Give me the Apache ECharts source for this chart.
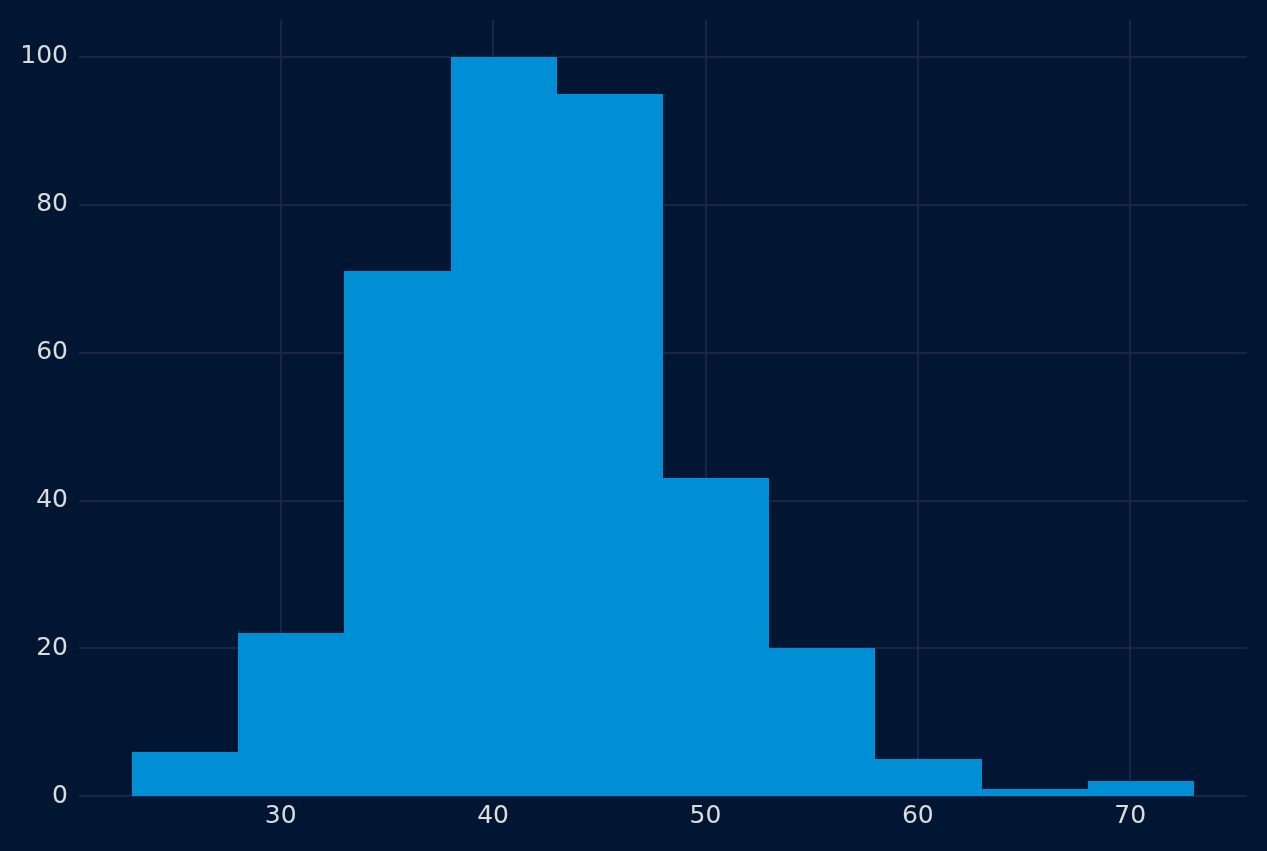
<!DOCTYPE html>
<html>
<head>
<meta charset="utf-8">
<script src="https://cdn.jsdelivr.net/npm/echarts@6/dist/echarts.min.js"></script>
<style>
html,body{margin:0;padding:0;background:#001632;}
#chart{width:1267px;height:851px;}
</style>
</head>
<body>
<div id="chart"></div>
<script>
const binStarts = [23, 28, 33, 38, 43, 48, 53, 58, 63, 68];
const binWidth = 5;
const counts = [6, 22, 71, 100, 95, 43, 20, 5, 1, 2];
const xTicks = [30, 40, 50, 60, 70];
const yTicks = [0, 20, 40, 60, 80, 100];

const data = binStarts.map((s, i) => [s, s + binWidth, counts[i]]);
const gridColor = '#1f2444';
const textColor = '#dcdcdc';

const chart = echarts.init(document.getElementById('chart'));
chart.setOption({
  backgroundColor: '#001632',
  animation: false,
  grid: {left: 79, right: 20, top: 20, bottom: 55},
  xAxis: {
    type: 'value', min: 20.5, max: 75.5,
    axisLine: {show: false},
    axisTick: {show: false, customValues: xTicks},
    axisLabel: {customValues: xTicks, color: textColor, fontSize: 25, fontFamily: 'DejaVu Sans', margin: 8},
    splitLine: {show: false}
  },
  yAxis: {
    type: 'value', min: 0, max: 105, interval: 20,
    axisLine: {show: false},
    axisTick: {show: false},
    axisLabel: {color: textColor, fontSize: 25, fontFamily: 'DejaVu Sans', margin: 11, showMaxLabel: false,
      formatter: v => yTicks.includes(v) ? String(v) : ''},
    splitLine: {show: true, showMaxLine: false, lineStyle: {color: gridColor, width: 2}}
  },
  series: [
    {
      type: 'line', data: [], z: 1, silent: true,
      markLine: {
        symbol: 'none', silent: true, label: {show: false},
        lineStyle: {color: gridColor, width: 2, type: 'solid'},
        data: xTicks.map(v => [{coord: [v, 0]}, {coord: [v, 105]}])
      }
    },
    {
      type: 'custom', z: 5,
      renderItem: function (params, api) {
        const p0 = api.coord([api.value(0), api.value(2)]);
        const p1 = api.coord([api.value(1), 0]);
        const x0 = Math.round(p0[0]), x1 = Math.round(p1[0]);
        const y0 = Math.round(p0[1]), y1 = Math.round(p1[1]);
        return {
          type: 'rect',
          shape: {x: x0, y: y0, width: x1 - x0, height: y1 - y0},
          style: {fill: '#008fd5'}
        };
      },
      encode: {x: [0, 1], y: 2},
      data: data
    }
  ]
});
</script>
</body>
</html>
